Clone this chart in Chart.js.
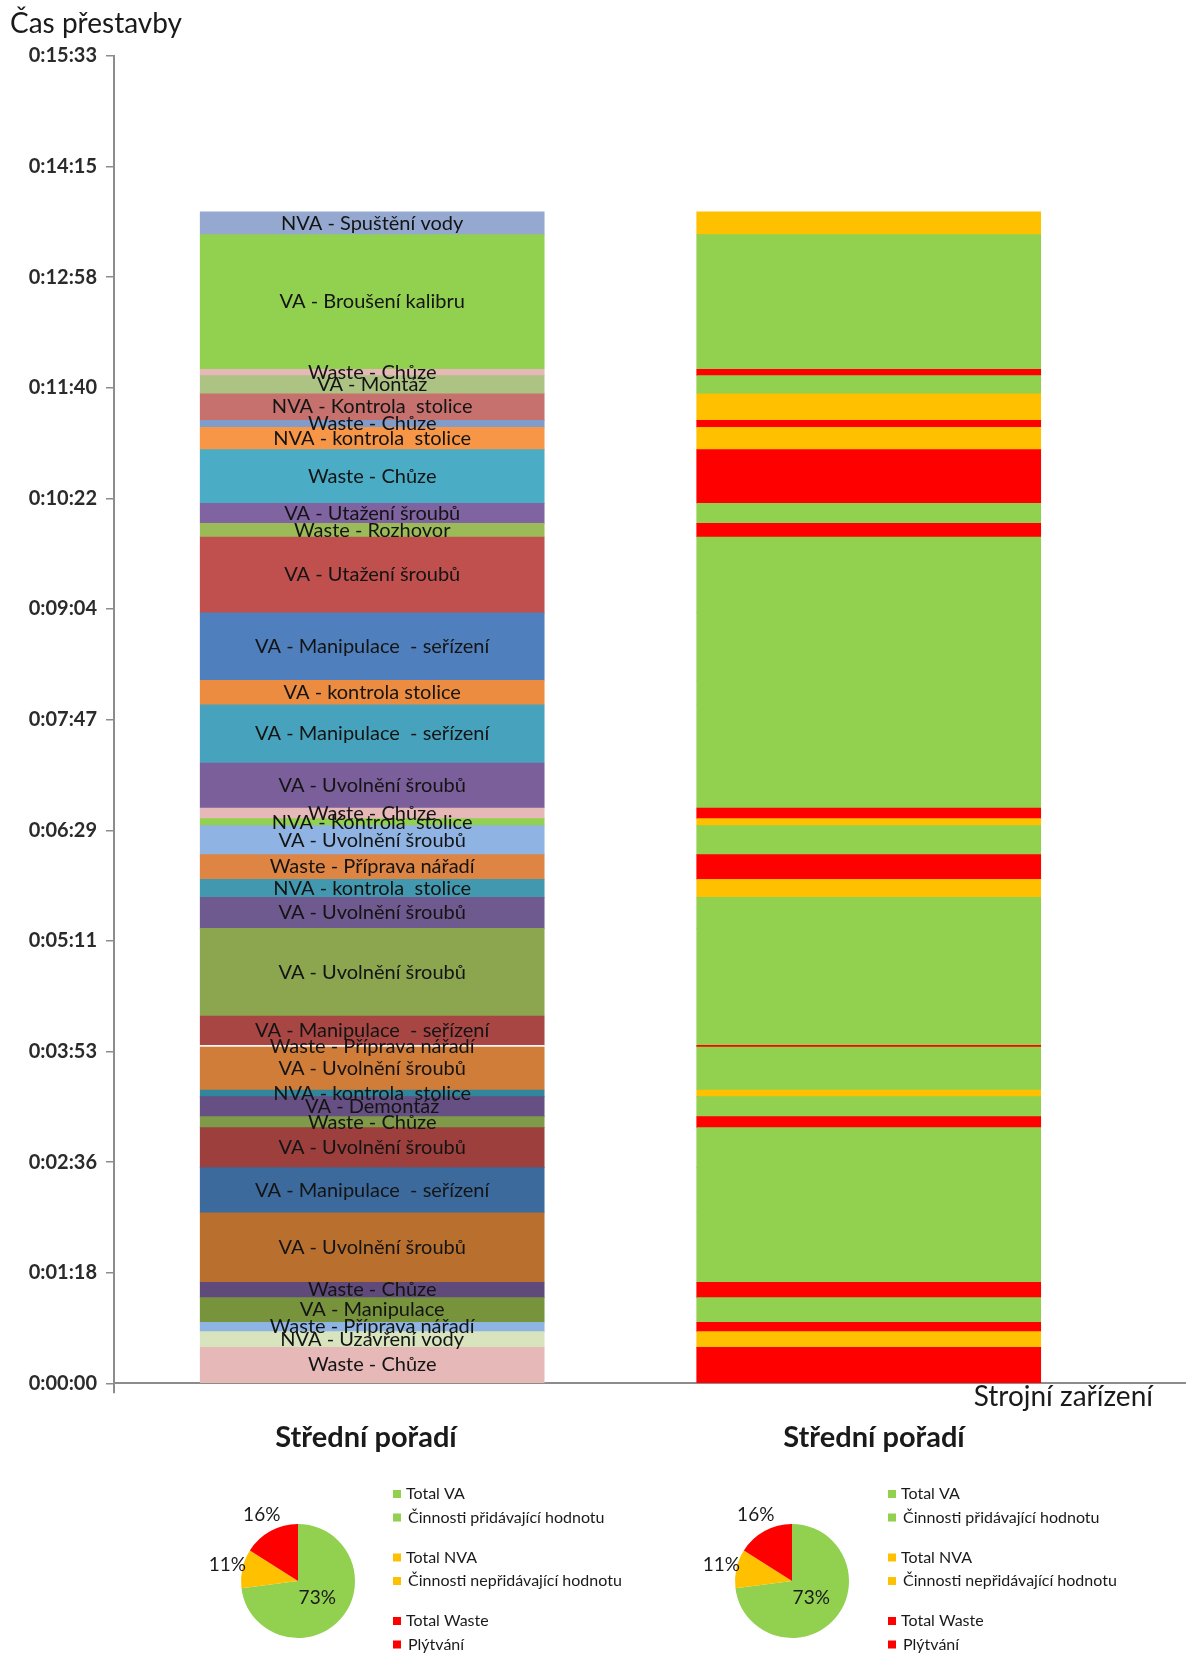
<!DOCTYPE html>
<html lang="cs">
<head>
<meta charset="UTF-8">
<title>Čas přestavby</title>
<script src="https://cdn.jsdelivr.net/npm/chart.js@4.4.1/dist/chart.umd.min.js"></script>
<style>
  html, body { margin: 0; padding: 0; background: #fff; }
  body { width: 1191px; height: 1657px; position: relative; overflow: hidden; }
  canvas { position: absolute; }
  #barChart { left: 0; top: 0; }
  #pieLeft { left: 161px; top: 1400px; }
  #pieRight { left: 655px; top: 1400px; }
</style>
</head>
<body>
<canvas id="barChart" width="1191" height="1420"></canvas>
<canvas id="pieLeft" width="500" height="257"></canvas>
<canvas id="pieRight" width="536" height="257"></canvas>
<script>
// left column = the individual steps, right column = the same steps coloured by type
const columns = [0, 1];

// steps from the bottom of the stack to the top
const stepLabels = [
  'Waste - Chůze',
  'NVA - Uzavření vody',
  'Waste - Příprava nářadí',
  'VA - Manipulace',
  'Waste - Chůze',
  'VA - Uvolnění šroubů',
  'VA - Manipulace  - seřízení',
  'VA - Uvolnění šroubů',
  'Waste - Chůze',
  'VA - Demontáž',
  'NVA - kontrola  stolice',
  'VA - Uvolnění šroubů',
  'Waste - Příprava nářadí',
  'VA - Manipulace  - seřízení',
  'VA - Uvolnění šroubů',
  'VA - Uvolnění šroubů',
  'NVA - kontrola  stolice',
  'Waste - Příprava nářadí',
  'VA - Uvolnění šroubů',
  'NVA - Kontrola  stolice',
  'Waste - Chůze',
  'VA - Uvolnění šroubů',
  'VA - Manipulace  - seřízení',
  'VA - kontrola stolice',
  'VA - Manipulace  - seřízení',
  'VA - Utažení šroubů',
  'Waste - Rozhovor',
  'VA - Utažení šroubů',
  'Waste - Chůze',
  'NVA - kontrola  stolice',
  'Waste - Chůze',
  'NVA - Kontrola  stolice',
  'VA - Montáž',
  'Waste - Chůze',
  'VA - Broušení kalibru',
  'NVA - Spuštění vody'
];

// duration of each step in seconds
const stepSeconds = [
  25.3, 11.0, 6.6, 17.3, 10.8, 48.9, 31.7, 28.1, 7.7, 14.1,
  4.7, 30.2, 1.2, 20.6, 61.6, 21.8, 12.7, 17.3, 20.4, 4.9,
  7.5, 31.6, 41.0, 17.2, 47.3, 53.4, 9.6, 14.1, 37.7, 15.7,
  4.9, 18.7, 12.7, 4.5, 94.6, 16.0
];

const yTickLabels = [
  '0:00:00', '0:01:18', '0:02:36', '0:03:53', '0:05:11', '0:06:29', '0:07:47',
  '0:09:04', '0:10:22', '0:11:40', '0:12:58', '0:14:15', '0:15:33'
];
const yMaxSeconds = 933;

const yAxisTitle = 'Čas přestavby';
const xAxisTitle = 'Strojní zařízení';

const pieTitle = 'Střední pořadí';
const pieLabels = ['Total VA', 'Total NVA', 'Total Waste'];
const pieSubLabels = ['Činnosti přidávající hodnotu', 'Činnosti nepřidávající hodnotu', 'Plýtvání'];
const piePercents = [73, 11, 16];

// colours
const stepColors = [
  '#e6b9b8', '#d7e4bd', '#8eb4e3', '#77933c', '#604a7b', '#b9702f', '#3d6a9c', '#9c3f3d', '#7f9a48', '#664f82',
  '#31869b', '#d07d3a', '#f5f5f5', '#a84644', '#8ba64f', '#6f5a90', '#4298ae', '#de8544', '#8fb4e3', '#92d050',
  '#e6b9b8', '#7a5f9a', '#47a3bd', '#ec8c40', '#4f80bd', '#c0504d', '#9bbb59', '#8064a2', '#4bacc6', '#f79646',
  '#7f9ccb', '#c6716e', '#adc384', '#e6b9b8', '#92d050', '#95a9d0'
];
const typeColors = { VA: '#92d050', NVA: '#ffc000', Waste: '#ff0000' };
const pieColors = [typeColors.VA, typeColors.NVA, typeColors.Waste];

const FONT = 'Lato, "Open Sans", sans-serif';
const AXIS = '#8c8c8c';

const segmentLabels = {
  id: 'segmentLabels',
  afterDatasetsDraw(chart) {
    const ctx = chart.ctx;
    ctx.save();
    ctx.font = '20px ' + FONT;
    ctx.fillStyle = '#141414';
    ctx.textAlign = 'center';
    ctx.textBaseline = 'middle';
    chart.data.datasets.forEach((ds, i) => {
      const bar = chart.getDatasetMeta(i).data[0];
      ctx.fillText(ds.label, bar.x, (bar.y + bar.base) / 2);
    });
    ctx.restore();
  }
};

const axisTitles = {
  id: 'axisTitles',
  afterDraw(chart) {
    const ctx = chart.ctx;
    ctx.save();
    ctx.font = '28px ' + FONT;
    ctx.fillStyle = '#1a1a1a';
    ctx.textBaseline = 'middle';
    ctx.textAlign = 'left';
    ctx.fillText(yAxisTitle, 10, 24);
    ctx.textAlign = 'right';
    ctx.fillText(xAxisTitle, 1153, 1397);
    ctx.restore();
  }
};

new Chart(document.getElementById('barChart'), {
  type: 'bar',
  data: {
    datasets: stepLabels.map((label, i) => ({
      label: label,
      data: columns.map(x => ({ x: x, y: stepSeconds[i] })),
      backgroundColor: [stepColors[i], typeColors[label.split(' - ')[0]]],
      borderWidth: 0,
      barThickness: 344
    }))
  },
  options: {
    responsive: false,
    animation: false,
    layout: { padding: { left: 0, right: 6, top: 56, bottom: 26.7 } },
    plugins: { legend: { display: false }, tooltip: { enabled: false } },
    scales: {
      x: {
        type: 'linear',
        stacked: true,
        offset: false,
        min: -0.52,
        max: 1.637,
        afterBuildTicks: s => { s.ticks = [{ value: s.min }]; },
        ticks: { display: false },
        grid: { offset: false, drawOnChartArea: false, tickLength: 10, color: AXIS, lineWidth: 2 },
        border: { color: AXIS, width: 2 },
        afterFit: s => { s.height = 10; }
      },
      y: {
        stacked: true,
        min: 0,
        max: yMaxSeconds,
        ticks: {
          count: yTickLabels.length,
          maxTicksLimit: 20,
          padding: 9,
          color: '#2b2b2b',
          font: { family: FONT, size: 20, weight: 'bold' },
          callback: (v, i) => yTickLabels[i]
        },
        grid: { drawOnChartArea: false, tickLength: 8, color: AXIS, lineWidth: 1.5 },
        border: { color: AXIS, width: 2 },
        afterFit: s => { s.width = 114; }
      }
    }
  },
  plugins: [segmentLabels, axisTitles]
});

// pie: slice labels, title and a two-level legend
const pieLabelRadius = [0.45, 1.27, 1.32];
const pieDecor = {
  id: 'pieDecor',
  afterDraw(chart, args, opts) {
    const ctx = chart.ctx;
    const arcs = chart.getDatasetMeta(0).data;
    ctx.save();
    ctx.fillStyle = '#1a1a1a';
    ctx.textAlign = 'center';
    ctx.textBaseline = 'middle';
    ctx.font = '19px ' + FONT;
    arcs.forEach((arc, i) => {
      const mid = (arc.startAngle + arc.endAngle) / 2;
      const r = arc.outerRadius * pieLabelRadius[i];
      ctx.fillText(piePercents[i] + '%', arc.x + Math.cos(mid) * r, arc.y + Math.sin(mid) * r);
    });
    ctx.font = 'bold 29px ' + FONT;
    ctx.fillText(pieTitle, opts.titleX, 38);
    ctx.textAlign = 'left';
    ctx.font = '16px ' + FONT;
    pieLabels.forEach((lab, g) => {
      [lab, pieSubLabels[g]].forEach((t, k) => {
        const y = 94 + g * 63.5 + k * 23.5;
        ctx.fillStyle = pieColors[g];
        ctx.fillRect(opts.legendX, y - 4, 8, 8);
        ctx.fillStyle = '#1a1a1a';
        ctx.fillText(t, opts.legendX + 13 + k * 2, y);
      });
    });
    ctx.restore();
  }
};

function makePie(id, titleX, legendX) {
  const canvas = document.getElementById(id);
  new Chart(canvas, {
    type: 'pie',
    data: {
      labels: pieLabels,
      datasets: [{ data: piePercents, backgroundColor: pieColors, borderWidth: 0 }]
    },
    options: {
      responsive: false,
      animation: false,
      layout: { padding: { left: 80, top: 124, right: canvas.width - 194, bottom: 19 } },
      plugins: {
        legend: { display: false },
        tooltip: { enabled: false },
        pieDecor: { titleX: titleX, legendX: legendX }
      }
    },
    plugins: [pieDecor]
  });
}

makePie('pieLeft', 205, 232);
makePie('pieRight', 219, 233);
</script>
</body>
</html>
